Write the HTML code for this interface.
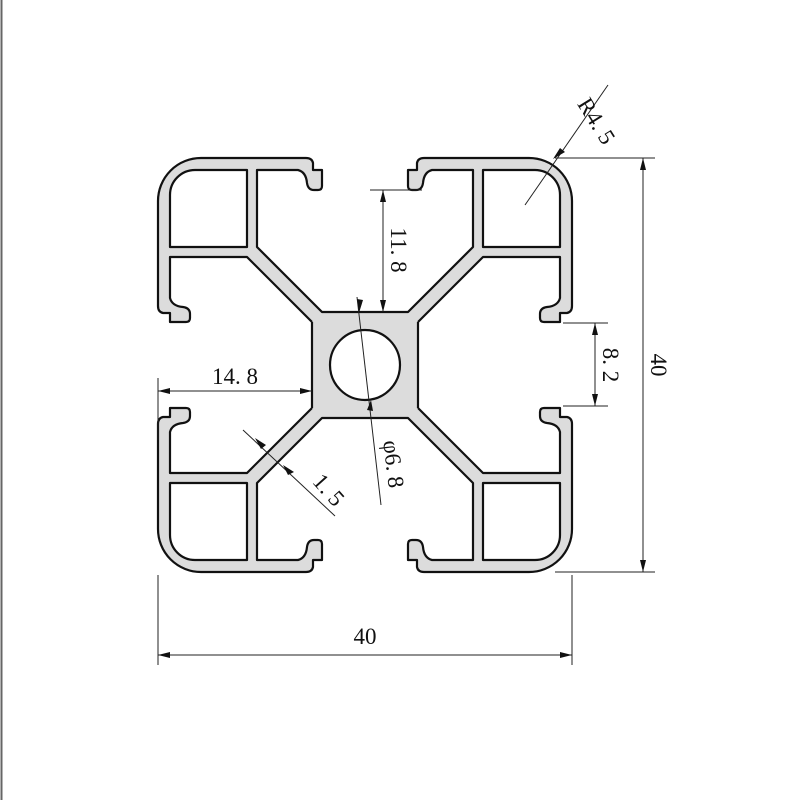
<!DOCTYPE html>
<html><head><meta charset="utf-8"><style>
html,body{margin:0;padding:0;background:#fff;}
svg{display:block;}
text{font-family:"Liberation Serif","Noto Serif CJK SC",serif;font-size:23px;fill:#111;}
</style></head><body>
<svg width="800" height="800" viewBox="0 0 800 800" xmlns="http://www.w3.org/2000/svg">
<defs>
<g id="q">
<path fill="#dcdcdc" fill-rule="evenodd" d="M312 322 L247 257 L170 257 L170 298 Q172 306 183 307 Q190 308 190 314 L190 318 Q190 322 186 322 L170 322 L170 313 L163 313 Q158 312 158 306 L158 201 A43 43 0 0 1 201 158 L306 158 Q312 158 313 163 L313 170 L322 170 L322 186 Q322 190 318 190 L314 190 Q308 190 307 183 Q306 172 298 170 L257 170 L257 247 L322 312 L365 312 L365 365 L312 365 Z M195 170 L247 170 L247 247 L170 247 L170 195 A25 25 0 0 1 195 170 Z"/>
<path fill="none" stroke="#111" stroke-width="2.2" stroke-linejoin="round" d="M312 322 L247 257 L170 257 L170 298 Q172 306 183 307 Q190 308 190 314 L190 318 Q190 322 186 322 L170 322 L170 313 L163 313 Q158 312 158 306 L158 201 A43 43 0 0 1 201 158 L306 158 Q312 158 313 163 L313 170 L322 170 L322 186 Q322 190 318 190 L314 190 Q308 190 307 183 Q306 172 298 170 L257 170 L257 247 L322 312 L365 312 M312 322 L312 365 M195 170 L247 170 L247 247 L170 247 L170 195 A25 25 0 0 1 195 170 Z"/>
</g>
<marker id="a" viewBox="0 0 12 6" refX="12" refY="3" markerWidth="12" markerHeight="6" orient="auto-start-reverse" markerUnits="userSpaceOnUse"><path d="M0 0 L12 3 L0 6 Z" fill="#111"/></marker>
</defs>
<line x1="1.5" y1="0" x2="1.5" y2="800" stroke="#666" stroke-width="2"/>
<use href="#q"/>
<use href="#q" transform="translate(730,0) scale(-1,1)"/>
<use href="#q" transform="translate(0,730) scale(1,-1)"/>
<use href="#q" transform="translate(730,730) scale(-1,-1)"/>
<circle cx="365" cy="365" r="35" fill="#fff" stroke="#111" stroke-width="2.2"/>
<g stroke="#222" stroke-width="1" fill="none">
<line x1="158" y1="575" x2="158" y2="665"/><line x1="572" y1="575" x2="572" y2="665"/>
<line x1="158" y1="655" x2="572" y2="655" marker-start="url(#a)" marker-end="url(#a)"/>
<line x1="555" y1="158" x2="655" y2="158"/><line x1="555" y1="572" x2="655" y2="572"/>
<line x1="643" y1="158" x2="643" y2="572" marker-start="url(#a)" marker-end="url(#a)"/>
<line x1="563" y1="323" x2="608" y2="323"/><line x1="563" y1="406" x2="608" y2="406"/>
<line x1="595" y1="323" x2="595" y2="406" marker-start="url(#a)" marker-end="url(#a)"/>
<line x1="370" y1="190" x2="422" y2="190"/>
<line x1="383" y1="190" x2="383" y2="312" marker-start="url(#a)" marker-end="url(#a)"/>
<line x1="158" y1="378" x2="158" y2="440"/>
<line x1="158" y1="391" x2="312" y2="391" marker-start="url(#a)" marker-end="url(#a)"/>
<line x1="357" y1="297" x2="381" y2="505"/>
<line x1="243" y1="430" x2="335" y2="516"/>
<line x1="525" y1="205" x2="608" y2="85"/>
</g>
<g fill="#111">
<path d="M255 438 L266 445 L261 449 Z"/>
<path d="M283 465 L294 472 L288 475 Z"/>
<path d="M359 313 L357 299 L363 300 Z"/>
<path d="M371 400 L367 410 L373 411 Z"/>
<path d="M553 159 L560 148 L565 152 Z"/>
</g>
<text x="365" y="644" text-anchor="middle">40</text>
<text transform="translate(651,365) rotate(90)" text-anchor="middle">40</text>
<text transform="translate(603,365) rotate(90)" text-anchor="middle">8. 2</text>
<text transform="translate(391,250) rotate(90)" text-anchor="middle">11. 8</text>
<text x="235" y="384" text-anchor="middle">14. 8</text>
<text transform="translate(323,495) rotate(48)" text-anchor="middle">1. 5</text>
<text transform="translate(386,465) rotate(83)" text-anchor="middle">φ6. 8</text>
<text transform="translate(590,125) rotate(58)" text-anchor="middle">R4. 5</text>
</svg>
</body></html>
